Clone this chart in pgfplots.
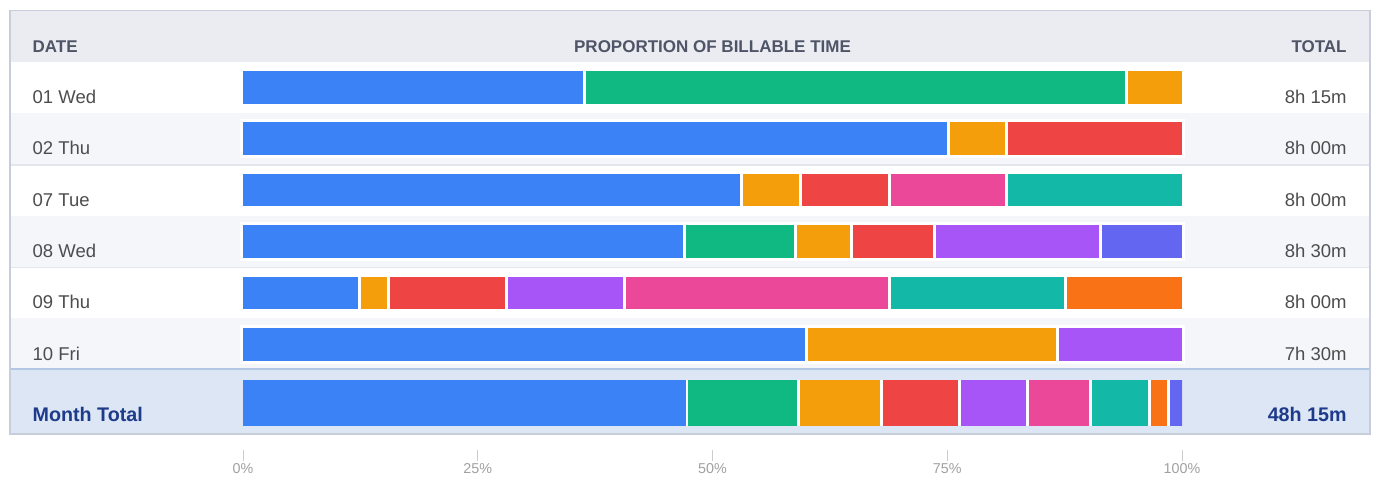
\documentclass[border=0pt]{standalone}
\usepackage{fontspec}
\setmainfont{Liberation Sans}
\usepackage{pgfplots}
\pgfplotsset{compat=1.18}
\usepackage{pgfplotstable}

\definecolor{cblue}{HTML}{3B82F6}
\definecolor{cgreen}{HTML}{10B981}
\definecolor{camber}{HTML}{F59E0B}
\definecolor{cred}{HTML}{EF4444}
\definecolor{cpurple}{HTML}{A855F7}
\definecolor{cpink}{HTML}{EC4899}
\definecolor{cteal}{HTML}{14B8A6}
\definecolor{corange}{HTML}{F97316}
\definecolor{cindigo}{HTML}{6366F1}
\definecolor{framecol}{HTML}{C8CED9}
\definecolor{hdrbg}{HTML}{EBECF2}
\definecolor{altbg}{HTML}{F5F6FA}
\definecolor{sepcol}{HTML}{E3E6EC}
\definecolor{bluesep}{HTML}{B3C6E3}
\definecolor{totbg}{HTML}{DCE6F5}
\definecolor{hdrtxt}{HTML}{4F5566}
\definecolor{rowtxt}{HTML}{4D4D4D}
\definecolor{tottxt}{HTML}{1E3A8A}
\definecolor{tickgray}{HTML}{CCCCCC}
\definecolor{labelgray}{HTML}{A0A0A0}

\newcommand\hdrfont{\fontsize{8.5pt}{10pt}\selectfont\bfseries}
\newcommand\rowfont{\fontsize{9.25pt}{11pt}\selectfont}
\newcommand\totfont{\fontsize{9.85pt}{12pt}\selectfont\bfseries}

% percentage of each day's time per category (y = row centre in px from top)
\pgfplotstableread{
y     blue   green  amber  red    purple pink   teal   orange indigo
87.3  36.364 57.576 6.061  0      0      0      0      0      0
138.7 75     0      6.25   18.75  0      0      0      0      0
190.1 53.125 0      6.25   9.375  0      12.5   18.75  0      0
241.5 47.059 11.765 5.882  8.824  17.647 0      0      0      8.823
292.9 12.5   0      3.125  12.5   12.5   28.125 18.75  12.5   0
344.3 60     0      26.667 0      13.333 0      0      0      0
}\daydata

\pgfplotstableread{
y blue   green  amber red   purple pink  teal  orange indigo
0 47.150 11.917 8.808 8.290 7.254  6.736 6.218 2.073  1.554
}\totaldata

\begin{document}
\begin{tikzpicture}
\begin{scope}[x=0.5pt,y=-0.5pt]
\useasboundingbox (0,0) rectangle (1376,478);
\fill[framecol] (8.5,9.5) rectangle (1370.5,435);
\fill[hdrbg] (10.5,11) rectangle (1368.8,62);
\fill[white] (10.5,62) rectangle (1368.8,113);
\fill[altbg] (10.5,113) rectangle (1368.8,164.3);
\fill[sepcol] (10.5,164.3) rectangle (1368.8,165.5);
\fill[white] (10.5,165.5) rectangle (1368.8,215.5);
\fill[altbg] (10.5,215.5) rectangle (1368.8,266.8);
\fill[sepcol] (10.5,266.8) rectangle (1368.8,268);
\fill[white] (10.5,268) rectangle (1368.8,318);
\fill[altbg] (10.5,318) rectangle (1368.8,367.5);
\fill[bluesep] (10.5,367.5) rectangle (1368.8,369.7);
\fill[totbg] (10.5,369.7) rectangle (1368.8,433.2);
\end{scope}

\begin{axis}[at={(0,0)}, anchor=north west, scale only axis,
  width=688pt, height=239pt,
  xmin=-25.637, xmax=120.435, ymin=0, ymax=478, y dir=reverse,
  hide axis, clip=true, xbar stacked, bar width=17.85pt,
  every axis plot/.append style={draw=white, line width=1.5pt}]
\addplot[fill=cblue]   table[x=blue,y=y]{\daydata};
\addplot[fill=cgreen]  table[x=green,y=y]{\daydata};
\addplot[fill=camber]  table[x=amber,y=y]{\daydata};
\addplot[fill=cred]    table[x=red,y=y]{\daydata};
\addplot[fill=cpurple] table[x=purple,y=y]{\daydata};
\addplot[fill=cpink]   table[x=pink,y=y]{\daydata};
\addplot[fill=cteal]   table[x=teal,y=y]{\daydata};
\addplot[fill=corange] table[x=orange,y=y]{\daydata};
\addplot[fill=cindigo] table[x=indigo,y=y]{\daydata};
\end{axis}

\begin{axis}[at={(121.5pt,-190pt)}, anchor=north west, scale only axis,
  width=469.5pt, height=22.85pt,
  xmin=0, xmax=99.84, ymin=-0.5, ymax=0.5,
  hide axis, clip=true, xbar stacked, bar width=26pt,
  every axis plot/.append style={draw=white, line width=1.5pt}]
\addplot[fill=cblue, draw=none] table[x=blue,y=y]{\totaldata};
\addplot[fill=cgreen]  table[x=green,y=y]{\totaldata};
\addplot[fill=camber]  table[x=amber,y=y]{\totaldata};
\addplot[fill=cred]    table[x=red,y=y]{\totaldata};
\addplot[fill=cpurple] table[x=purple,y=y]{\totaldata};
\addplot[fill=cpink]   table[x=pink,y=y]{\totaldata};
\addplot[fill=cteal]   table[x=teal,y=y]{\totaldata};
\addplot[fill=corange] table[x=orange,y=y]{\totaldata};
\addplot[fill=cindigo] table[x=indigo,y=y]{\totaldata};
\end{axis}

\begin{axis}[at={(121.5pt,-225pt)}, anchor=north west, scale only axis,
  width=469.5pt, height=5.5pt,
  xmin=0, xmax=100, ymin=0, ymax=1,
  axis line style={draw=none}, ytick=\empty,
  xtick={0,25,50,75,100}, xticklabels={0\%,25\%,50\%,75\%,100\%},
  xtick pos=left, tick align=inside, major tick length=5.5pt,
  xtick style={draw=tickgray, line width=0.5pt},
  xticklabel style={anchor=base, yshift=-6pt, inner sep=0pt,
    font=\fontsize{7.15pt}{8pt}\selectfont, text=labelgray}]
\end{axis}

\begin{scope}[x=0.5pt,y=-0.5pt, every node/.style={inner sep=0pt}]
\node[anchor=base west, font=\hdrfont, text=hdrtxt] at (32.3,52) {DATE};
\node[anchor=base, font=\hdrfont, text=hdrtxt] at (712.5,52) {PROPORTION OF BILLABLE TIME};
\node[anchor=base east, font=\hdrfont, text=hdrtxt] at (1347,52) {TOTAL};
\foreach \yy/\dd/\tt in {103.3/01 Wed/8h 15m, 154.6/02 Thu/8h 00m, 206/07 Tue/8h 00m,
   257.3/08 Wed/8h 30m, 308.8/09 Thu/8h 00m, 360/10 Fri/7h 30m}{
  \node[anchor=base west, font=\rowfont, text=rowtxt] at (32.3,\yy) {\dd};
  \node[anchor=base east, font=\rowfont, text=rowtxt] at (1347,\yy) {\tt};
}
\node[anchor=base west, font=\totfont, text=tottxt] at (32.3,421.7) {Month Total};
\node[anchor=base east, font=\totfont, text=tottxt] at (1347,421.7) {48h 15m};
\end{scope}
\end{tikzpicture}
\end{document}
